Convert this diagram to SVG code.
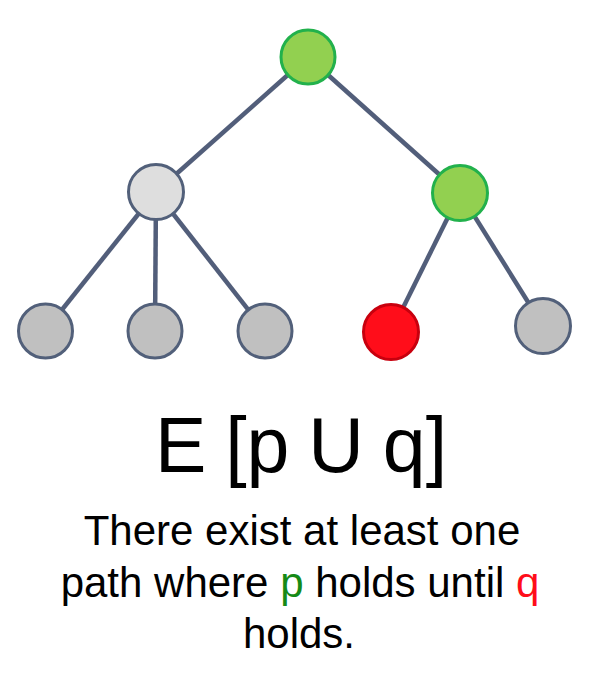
<svg xmlns="http://www.w3.org/2000/svg" width="605" height="700" viewBox="0 0 605 700">
<style>
.edge{stroke:#525e7a;stroke-width:4.5;fill:none}
.node{stroke-width:3}
.green{fill:#92d050;stroke:#22b14c}
.light{fill:#dedede;stroke:#52607a}
.gray{fill:#c0c0c0;stroke:#52607a}
.red{fill:#ff0d1a;stroke:#c8000e}
text{font-family:"Liberation Sans",Arial,sans-serif;fill:#000;text-anchor:middle}
</style>
<rect width="605" height="700" fill="#fff"/>
<g id="connectors">
<line class="edge" x1="308" y1="57" x2="156" y2="192"/>
<line class="edge" x1="308" y1="57" x2="460" y2="193"/>
<line class="edge" x1="156" y1="192" x2="45" y2="331"/>
<line class="edge" x1="156" y1="192" x2="155" y2="331"/>
<line class="edge" x1="156" y1="192" x2="265" y2="331"/>
<line class="edge" x1="460" y1="193" x2="391" y2="332"/>
<line class="edge" x1="460" y1="193" x2="543" y2="326"/>
</g>
<g id="n_root"><circle class="node green" cx="308" cy="57" r="27"/></g>
<g id="n_left"><circle class="node light" cx="156" cy="192" r="27.5"/></g>
<g id="n_right"><circle class="node green" cx="460" cy="193" r="27.5"/></g>
<g id="n_ll"><circle class="node gray" cx="45.5" cy="331" r="27"/></g>
<g id="n_lm"><circle class="node gray" cx="155" cy="331" r="27"/></g>
<g id="n_lr"><circle class="node gray" cx="265" cy="331" r="27"/></g>
<g id="n_red"><circle class="node red" cx="391" cy="332" r="27.5"/></g>
<g id="n_rr"><circle class="node gray" cx="543" cy="326" r="27.5"/></g>
<text x="301" y="472" font-size="77" word-spacing="-2.5">E [p U q]</text>
<text x="302" y="545" font-size="42">There exist at least one</text>
<text x="300" y="597" font-size="42">path where <tspan fill="#168a16">p</tspan> holds until <tspan fill="#ff0d1a">q</tspan></text>
<text x="299" y="648" font-size="42">holds.</text>
</svg>
